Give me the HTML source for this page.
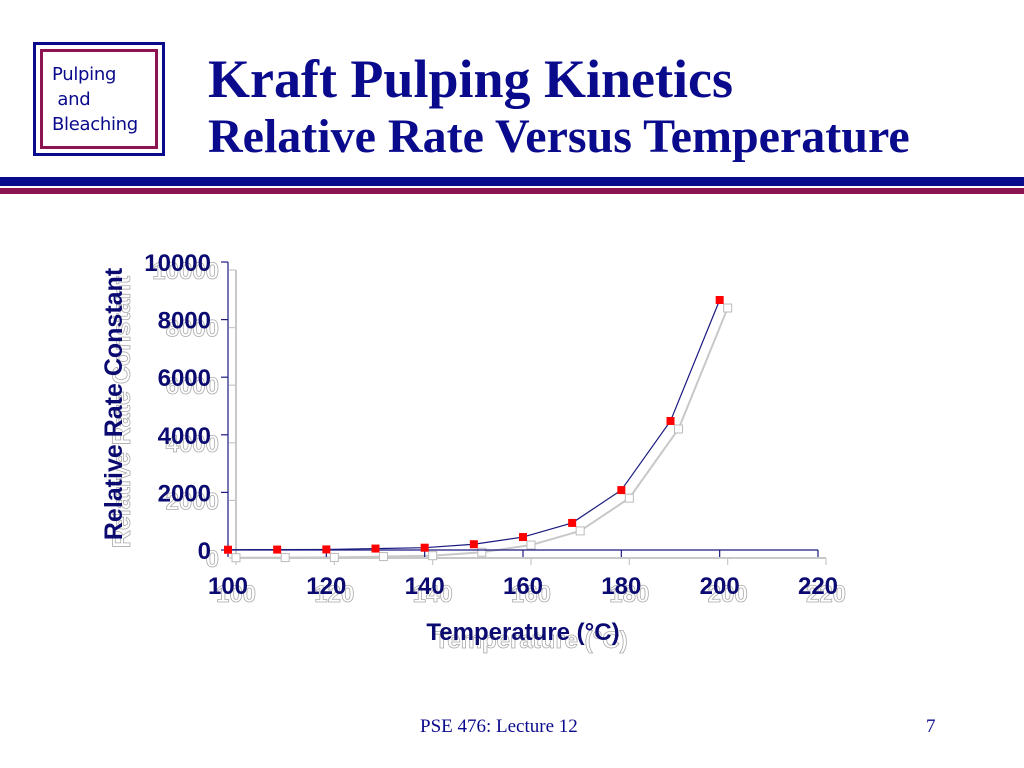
<!DOCTYPE html>
<html><head><meta charset="utf-8"><style>
body{margin:0;width:1024px;height:768px;background:#fff;overflow:hidden;position:relative;font-family:"Liberation Sans",sans-serif}
.abs{position:absolute}
</style></head><body>
<div class="abs" style="left:33px;top:42px;width:126px;height:108px;border:3px solid #0a0a8c"></div>
<div class="abs" style="left:40px;top:49px;width:112px;height:94px;border:3px solid #8c1450"></div>
<div class="abs" style="left:52px;top:62px;color:#0a0a8c;font-family:'DejaVu Sans',sans-serif;font-size:18px;line-height:25px;letter-spacing:-0.3px">Pulping<br>&nbsp;and<br>Bleaching</div>
<div class="abs" style="left:208px;top:49px;color:#0a0a8c;font-family:'Liberation Serif',serif;font-weight:bold;font-size:54px;line-height:60px;white-space:nowrap">Kraft Pulping Kinetics</div>
<div class="abs" style="left:208px;top:110px;color:#0a0a8c;font-family:'Liberation Serif',serif;font-weight:bold;font-size:48px;line-height:54px;white-space:nowrap">Relative Rate Versus Temperature</div>
<div class="abs" style="left:0;top:177px;width:1024px;height:9px;background:#0a0a8c"></div>
<div class="abs" style="left:0;top:188px;width:1024px;height:6px;background:#8c1450"></div>
<div class="abs" style="left:420px;top:716px;font-family:'Liberation Serif',serif;font-size:19px;color:#0a0a8c">PSE 476: Lecture 12</div>
<div class="abs" style="left:926px;top:716px;font-family:'Liberation Serif',serif;font-size:19px;color:#0a0a8c">7</div>
<svg class="abs" style="left:0;top:0" width="1024" height="768">
<g id="shadow" transform="translate(8,8)"></g>
<g id="main"></g>
</svg>
<script>
const temps=[100,110,120,130,140,150,160,170,180,190,200];
const rates=[10,15,20,50,80,200,450,940,2080,4480,8680];
const xTicks=[100,120,140,160,180,200,220];
const yTicks=[0,2000,4000,6000,8000,10000];
const NS='http://www.w3.org/2000/svg';
const X=v=>228+(v-100)*(818-228)/120;
const Y=v=>550-v*(550-262)/10000;
function mk(p,t,a){const e=document.createElementNS(NS,t);for(const k in a)e.setAttribute(k,a[k]);p.appendChild(e);return e;}
function draw(g,shadow){
 const axc=shadow?'#c8c8c8':'#1a1a80';
 const tf=shadow?'#fff':'#0a0a70';
 const ts=shadow?'#aaa':'none';
 let a=mk(g,'line',{x1:228,y1:550,x2:818,y2:550,stroke:axc,'stroke-width':shadow?2:1.2});
 
 a=mk(g,'line',{x1:228,y1:262,x2:228,y2:550,stroke:axc,'stroke-width':shadow?2:1.2});
 
 xTicks.forEach(v=>{
  const t=mk(g,'line',{x1:X(v),y1:550,x2:X(v),y2:557,stroke:axc,'stroke-width':1.2});
  
  const l=mk(g,'text',{x:X(v),y:594,'text-anchor':'middle','font-size':24,'font-weight':'bold',fill:tf,stroke:ts,'stroke-width':0.8});
  l.textContent=v;
 });
 yTicks.forEach(v=>{
  const t=mk(g,'line',{x1:221,y1:Y(v),x2:228,y2:Y(v),stroke:axc,'stroke-width':1.2});
  
  const l=mk(g,'text',{x:211,y:Y(v)+9,'text-anchor':'end','font-size':24,'font-weight':'bold',fill:tf,stroke:ts,'stroke-width':0.8});
  l.textContent=v;
 });
 let t=mk(g,'text',{x:523,y:640,'text-anchor':'middle','font-size':24,'font-weight':'bold',fill:tf,stroke:ts,'stroke-width':0.8});
 t.textContent='Temperature (°C)';
 t=mk(g,'text',{x:0,y:0,transform:'translate(122,404) rotate(-90)','text-anchor':'middle','font-size':25,'font-weight':'bold',fill:tf,stroke:ts,'stroke-width':0.8});
 t.textContent='Relative Rate Constant';
 const pl=mk(g,'polyline',{points:temps.map((x,i)=>X(x)+','+Y(rates[i])).join(' '),fill:'none',stroke:shadow?'#c8c8c8':'#1a1a80','stroke-width':shadow?2:1.2});
 
 temps.forEach((x,i)=>{
  const r=mk(g,'rect',{x:X(x)-4,y:Y(rates[i])-4,width:8,height:8,fill:shadow?'#fff':'#f00',stroke:shadow?'#bbb':'none','stroke-width':1});
  
 });
}
draw(document.getElementById('shadow'),true);
draw(document.getElementById('main'),false);
</script>
</body></html>
